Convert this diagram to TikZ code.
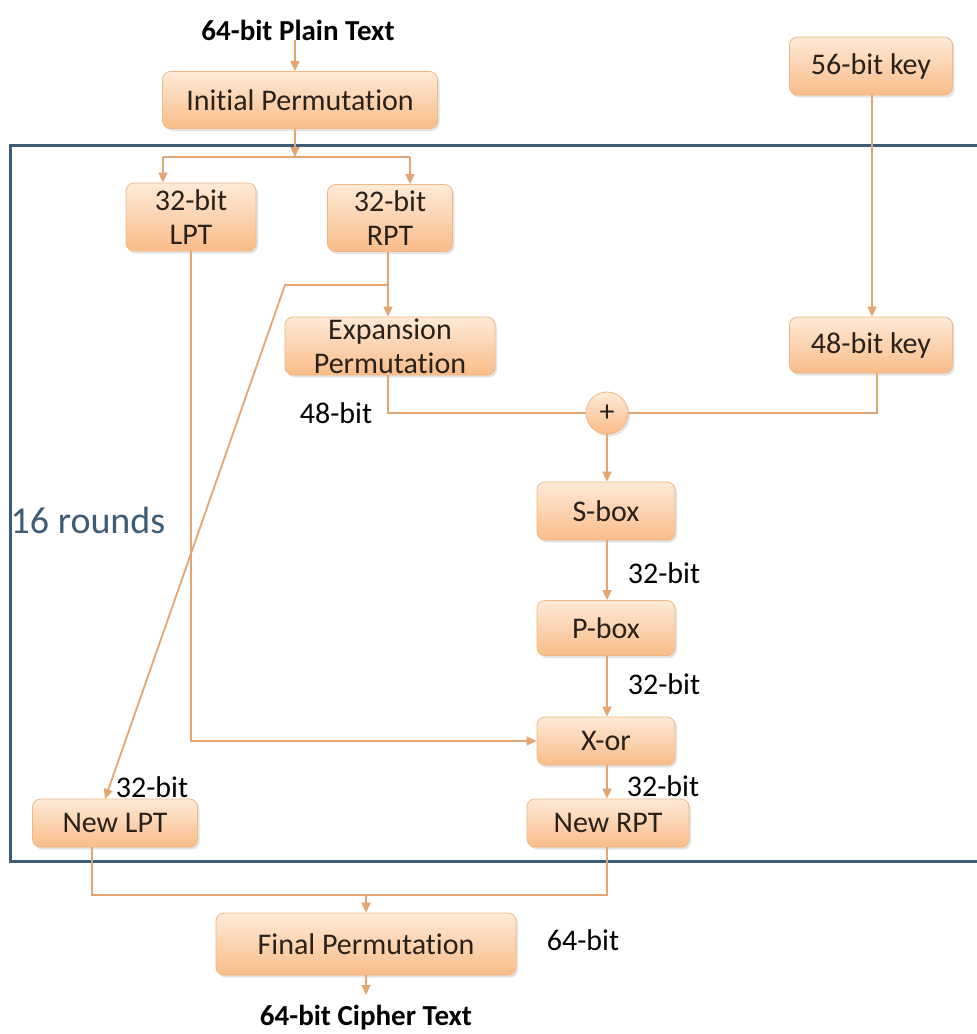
\documentclass[tikz,border=0pt]{standalone}
\usepackage{fontspec}
\setmainfont{Carlito}[Ligatures={NoCommon,NoContextual}]
\usetikzlibrary{arrows.meta,shadows}
% keep "t" and "i" as separate glyphs
\newcommand\tisep{t\kern0pt i}
\definecolor{boxtop}{HTML}{FEEAD8}
\definecolor{boxbot}{HTML}{F9BC88}
\definecolor{boxedge}{HTML}{F2B783}
\definecolor{wire}{HTML}{E3A571}
\definecolor{frame}{HTML}{3E5C76}
\definecolor{ink}{HTML}{2A211B}
\tikzset{
  big/.style={font=\fontsize{30}{34}\selectfont},
  stage/.style={big, draw=boxedge, line width=0.8pt, rounded corners=8pt,
    top color=boxtop, bottom color=boxbot, text=ink, align=center, inner sep=0pt,
    drop shadow={opacity=0.22, shadow xshift=2pt, shadow yshift=-2.5pt}},
  mixer/.style={big, circle, draw=boxedge, line width=0.8pt, top color=boxtop,
    bottom color=boxbot, text=ink, inner sep=0pt, minimum size=42pt,
    drop shadow={opacity=0.22, shadow xshift=2pt, shadow yshift=-2.5pt}},
  wirestyle/.style={draw=wire, line width=1.8pt},
  arr/.style={wirestyle, -{Triangle[length=10pt,width=9pt]}},
  lbl/.style={big, text=black, inner sep=0pt},
  io/.style={font=\fontsize{29}{34}\selectfont\bfseries, text=black, inner sep=0pt}
}
\begin{document}
\begin{tikzpicture}[x=1pt,y=-1pt]
\useasboundingbox (0,0) rectangle (977,1034);
\fill[white] (0,0) rectangle (977,1034);

% round frame
\draw[frame, line width=3pt] (985,145) -- (10,145) -- (10,861) -- (985,861);
\node[big, font=\fontsize{38}{44}\selectfont, text=frame, inner sep=0pt] (rounds) at (88,520) {16 rounds};

% stages
\node[io] (plain) at (298,30) {64-bit Plain Text};
\node[stage, minimum width=275pt, minimum height=57pt] (ip) at (300,100) {Ini\tisep al Permuta\tisep on};
\node[stage, minimum width=163pt, minimum height=58pt] (k56) at (871,66) {56-bit key};
\node[stage, minimum width=130pt, minimum height=68pt] (lpt) at (191,217) {32-bit\\LPT};
\node[stage, minimum width=125pt, minimum height=67pt] (rpt) at (390,218) {32-bit\\RPT};
\node[stage, minimum width=210pt, minimum height=58pt] (exp) at (390,346) {Expansion\\Permuta\tisep on};
\node[stage, minimum width=163pt, minimum height=56pt] (k48) at (871,345) {48-bit key};
\node[mixer, font=\fontsize{30}{34}\selectfont] (add) at (607,413) {+};
\node[stage, minimum width=138pt, minimum height=58pt] (sbox) at (606,511) {S-box};
\node[stage, minimum width=138pt, minimum height=55pt] (pbox) at (606,628) {P-box};
\node[stage, minimum width=138pt, minimum height=48pt] (xorb) at (606,741) {X-or};
\node[stage, minimum width=162pt, minimum height=48pt] (nrpt) at (608,823) {New RPT};
\node[stage, minimum width=165pt, minimum height=48pt] (nlpt) at (115,823) {New LPT};
\node[stage, minimum width=300pt, minimum height=62pt] (fp) at (366,944) {Final Permuta\tisep on};
\node[io] (cipher) at (366,1018) {64-bit Cipher Text};

% labels
\node[lbl] (l48) at (336,413) {48-bit};
\node[lbl] (l32a) at (664,573) {32-bit};
\node[lbl] (l32b) at (664,684) {32-bit};
\node[lbl] (l32c) at (663,786) {32-bit};
\node[lbl] (l32d) at (152,787) {32-bit};
\node[lbl] (l64) at (583,940) {64-bit};

% junction points
\coordinate (split) at (295,157);
\coordinate (sl) at (163,157);
\coordinate (sr) at (410,157);
\coordinate (br) at (388,285);
\coordinate (bl) at (285,285);
\coordinate (nltop) at (105,799);
\coordinate (mj) at (366,895);
\coordinate (cend) at (366,995);

% connectors
\draw[arr] (plain.south -| split) -- (ip.north -| split);
\draw[arr] (ip.south -| split) -- (split);
\draw[wirestyle] (sl) -- (sr);
\draw[arr] (sl) -- (lpt.north -| sl);
\draw[arr] (sr) -- (rpt.north -| sr);
\draw[arr] (lpt.south) |- (xorb.west);
\draw[arr] (rpt.south -| br) -- (exp.north -| br);
\draw[arr] (br) -- (bl) -- (nltop);
\draw[wirestyle] (exp.south -| br) |- (add.west);
\draw[arr] (k56.south -| 872,0) -- (k48.north -| 872,0);
\draw[wirestyle] (k48.south -| 877,0) |- (add.east);
\draw[arr] (add.south) -- (sbox.north -| add);
\draw[arr] (sbox.south -| add) -- (pbox.north -| add);
\draw[arr] (pbox.south -| add) -- (xorb.north -| add);
\draw[arr] (xorb.south -| add) -- (nrpt.north -| add);
\draw[wirestyle] (nlpt.south -| 92,0) |- (mj) -| (nrpt.south -| add);
\draw[arr] (mj) -- (fp.north);
\draw[arr] (fp.south) -- (cend);
\end{tikzpicture}
\end{document}
